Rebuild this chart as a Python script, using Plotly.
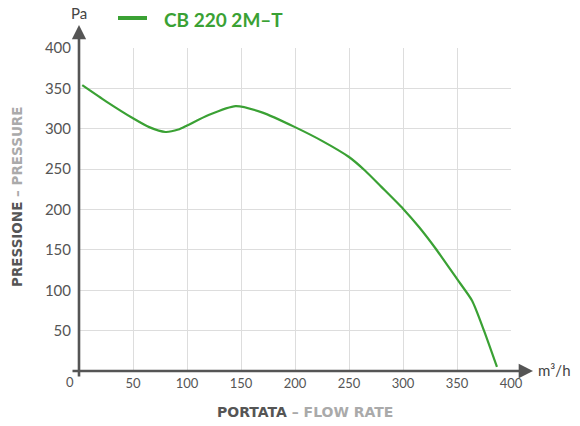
import plotly.graph_objects as go

# Curve data (flow rate m3/h vs pressure Pa)
flow = [3, 25, 50, 65, 80, 92, 100, 120, 145, 170, 200, 225, 250, 265, 280, 300, 315, 330, 350, 364, 375, 387]
pressure = [354, 334, 313, 302, 296, 299, 304, 317, 328, 320, 302, 285, 265, 248, 228, 201, 178, 152, 114, 87, 50, 5]

x_ticks = [50, 100, 150, 200, 250, 300, 350, 400]
y_ticks = [50, 100, 150, 200, 250, 300, 350, 400]
series_name = "CB 220 2M\u2013T"

GREEN = "#3aa134"
AXIS = "#555555"
GRID = "#dddddd"
FONT = "Lato"
TITLE_FONT = "DejaVu Sans"

W, H = 580, 426
L, R, T, B = 79, 69, 48, 55
pw, ph = W - L - R, H - T - B

def px_x(p):
    return (p - L) / pw

def px_y(p):
    return (H - B - p) / ph

fig = go.Figure()
fig.add_trace(go.Scatter(
    x=flow, y=pressure, mode="lines",
    line=dict(color=GREEN, width=2.2, shape="spline", smoothing=0.6),
    name=series_name, showlegend=False, hoverinfo="skip"))

fig.update_layout(
    width=W, height=H,
    margin=dict(l=L, r=R, t=T, b=B, pad=0),
    paper_bgcolor="white", plot_bgcolor="white",
    font=dict(family=FONT, color=AXIS),
    xaxis=dict(range=[0, 400], tickvals=x_ticks, ticktext=[str(v) for v in x_ticks],
               showgrid=True, gridcolor=GRID, gridwidth=1, zeroline=False, showline=False,
               ticks="", tickfont=dict(size=13, color=AXIS), ticklabelstandoff=3, fixedrange=True),
    yaxis=dict(range=[0, 400], tickvals=y_ticks, ticktext=[str(v) for v in y_ticks],
               showgrid=True, gridcolor=GRID, gridwidth=1, zeroline=False, showline=False,
               ticks="", tickfont=dict(size=15, color=AXIS), ticklabelstandoff=7, fixedrange=True),
)

annotations = [
    # y axis arrow
    dict(x=px_x(79), y=px_y(25), xref="paper", yref="paper", text="", showarrow=True,
         ax=0, ay=378 - 25, arrowhead=2, arrowsize=1.1, arrowwidth=2.6, arrowcolor=AXIS),
    # x axis arrow
    dict(x=px_x(533), y=px_y(371), xref="paper", yref="paper", text="", showarrow=True,
         ax=71 - 533, ay=0, arrowhead=2, arrowsize=1.1, arrowwidth=2.6, arrowcolor=AXIS),
    # units
    dict(x=px_x(79), y=px_y(13), xref="paper", yref="paper", text="Pa", showarrow=False,
         font=dict(size=15, color="#444444"), xanchor="center", yanchor="middle"),
    dict(x=px_x(536), y=px_y(370), xref="paper", yref="paper", text="m\u00b3/h", showarrow=False,
         font=dict(size=15, color="#444444"), xanchor="left", yanchor="middle"),
    dict(x=px_x(70), y=px_y(382), xref="paper", yref="paper", text="0", showarrow=False,
         font=dict(size=13, color=AXIS), xanchor="center", yanchor="middle"),
    # axis titles
    dict(x=px_x(305), y=px_y(412), xref="paper", yref="paper",
         text="<b><span style='color:#555555'>PORTATA</span> <span style='color:#aaaaaa'>\u2013 FLOW RATE</span></b>",
         showarrow=False, font=dict(size=14, family=TITLE_FONT), xanchor="center", yanchor="middle"),
    dict(x=px_x(17), y=px_y(197), xref="paper", yref="paper", textangle=-90,
         text="<b><span style='color:#555555'>PRESSIONE</span> <span style='color:#aaaaaa'>\u2013 PRESSURE</span></b>",
         showarrow=False, font=dict(size=13.5, family=TITLE_FONT), xanchor="center", yanchor="middle"),
    # legend text
    dict(x=px_x(162), y=px_y(19), xref="paper", yref="paper", text="<b>" + series_name + "</b>",
         showarrow=False, font=dict(size=19, color=GREEN), xanchor="left", yanchor="middle"),
]
fig.update_layout(annotations=annotations)

fig.add_shape(type="line", xref="paper", yref="paper",
              x0=px_x(118), x1=px_x(147), y0=px_y(18), y1=px_y(18),
              line=dict(color=GREEN, width=4))

fig.write_html("out.html", config={"displayModeBar": False},
               post_script="document.body.style.margin='0';document.body.style.overflow='hidden';")
